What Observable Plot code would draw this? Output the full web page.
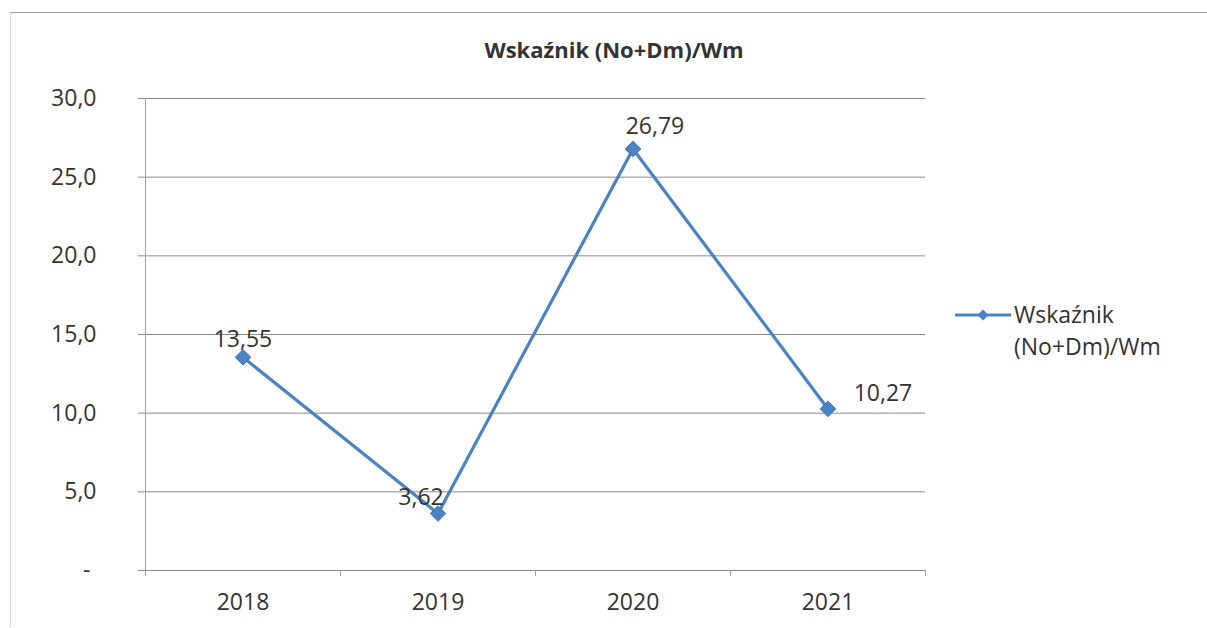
<!DOCTYPE html>
<html>
<head>
<meta charset="utf-8">
<script src="https://cdn.jsdelivr.net/npm/d3@7"></script>
<script src="https://cdn.jsdelivr.net/npm/@observablehq/plot@0.6"></script>
<style>
  html, body { margin: 0; padding: 0; background: #fff; }
  #wrap { position: relative; width: 1207px; height: 628px; overflow: hidden; font-family: "Open Sans", sans-serif; }
  #frame { position: absolute; left: 10px; top: 12px; width: 1300px; height: 700px; border-top: 1px solid #9a9a9a; border-left: 1px dotted #b5b5b5; }
  #title { position: absolute; left: 0; width: 1228px; top: 38px; text-align: center; font-size: 22px; line-height: 22px; font-weight: bold; color: #333; }
  #legend { position: absolute; left: 955px; top: 298px; display: flex; align-items: flex-start; }
  #legend .txt { font-size: 23px; line-height: 32px; color: #333; margin-left: 3px; }
  #chart { position: absolute; left: 0; top: 0; }
</style>
</head>
<body>
<div id="wrap">
  <div id="frame"></div>
  <div id="chart"></div>
  <div id="title"></div>
  <div id="legend"></div>
</div>
<script>
const years = ["2018", "2019", "2020", "2021"];
const values = [13.55, 3.62, 26.79, 10.27];
const yTicks = [0, 5, 10, 15, 20, 25, 30];
const seriesName = "Wskaźnik (No+Dm)/Wm";
const legendLines = ["Wskaźnik", "(No+Dm)/Wm"];

const blue = "#4a83c4";
const gridColor = "#8a8a8a";
const textColor = "#333";

const data = years.map((year, i) => ({ year, i, value: values[i] }));
const fmt = v => v.toFixed(2).replace(".", ",");
const yFmt = v => v === 0 ? "-\u00a0" : v.toFixed(1).replace(".", ",");

// per-point label offsets (style)
const labelOffsets = [[0, -18], [-17, -16], [22, -22], [55, -15]];

const bandEdges = d3.range(years.length + 1);
const bandCenters = years.map((_, i) => i + 0.5);

const labelMarks = data.map((d, k) => Plot.text([d], {
  x: d => d.i + 0.5,
  y: "value",
  text: d => fmt(d.value),
  dx: labelOffsets[k][0],
  dy: labelOffsets[k][1],
  fontSize: 23,
  fill: textColor
}));

const chart = Plot.plot({
  width: 1207,
  height: 628,
  marginLeft: 145,
  marginRight: 282,
  marginTop: 98,
  marginBottom: 58,
  style: { fontFamily: "Open Sans, sans-serif", background: "transparent", overflow: "visible" },
  x: { type: "linear", domain: [0, years.length] },
  y: { domain: [0, 30] },
  marks: [
    Plot.ruleY(yTicks, { stroke: gridColor, strokeWidth: 1 }),
    Plot.ruleX([0], { stroke: "#a0a0a0", strokeWidth: 1 }),
    Plot.axisY({ ticks: yTicks, tickFormat: yFmt, tickSize: 7, tickPadding: 42, fontSize: 23, color: textColor, stroke: gridColor, textAnchor: "end", label: null }),
    Plot.axisX({ ticks: bandEdges, tickFormat: () => "", tickSize: 6, stroke: "#a0a0a0", label: null }),
    Plot.axisX({ ticks: bandCenters, tickFormat: (t) => years[Math.round(t - 0.5)], tickSize: 0, tickPadding: 23, fontSize: 23, color: textColor, label: null }),
    Plot.line(data, { x: d => d.i + 0.5, y: "value", stroke: blue, strokeWidth: 3.2 }),
    Plot.dot(data, { x: d => d.i + 0.5, y: "value", symbol: "diamond2", r: 7, fill: blue, stroke: "#3f74b3", strokeWidth: 1 }),
    ...labelMarks
  ]
});
document.getElementById("chart").appendChild(chart);

document.getElementById("title").textContent = seriesName;

// legend (HTML, with a small inline SVG swatch)
const legend = document.getElementById("legend");
const sw = d3.create("svg").attr("width", 56).attr("height", 34);
sw.append("line").attr("x1", 0).attr("x2", 56).attr("y1", 17).attr("y2", 17).attr("stroke", blue).attr("stroke-width", 3);
sw.append("path").attr("d", d3.symbol(d3.symbolSquare, 60)()).attr("transform", "translate(28,17) rotate(45)").attr("fill", blue);
legend.appendChild(sw.node());
const txt = document.createElement("div");
txt.className = "txt";
legendLines.forEach(l => { const s = document.createElement("div"); s.textContent = l; txt.appendChild(s); });
legend.appendChild(txt);
</script>
</body>
</html>
